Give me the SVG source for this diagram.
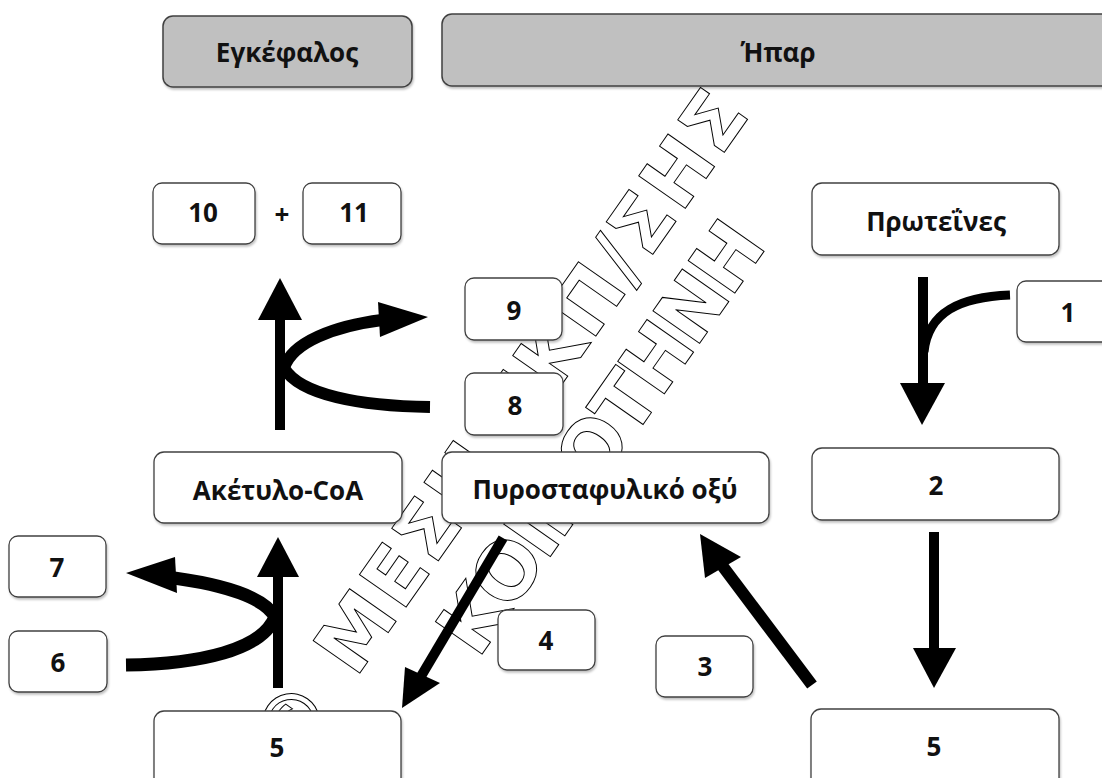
<svg xmlns="http://www.w3.org/2000/svg" width="1102" height="778" viewBox="0 0 1102 778">
<defs>
<filter id="sh" x="-5%" y="-5%" width="115%" height="125%">
<feDropShadow dx="1" dy="2" stdDeviation="1" flood-color="#000" flood-opacity="0.25"/>
</filter>
<style>
.box{fill:#fff;stroke:#404040;stroke-width:1.3;filter:url(#sh)}
.hdr{fill:#c0c0c0;stroke:#404040;stroke-width:1.5;filter:url(#sh)}
.lbl{font-family:"Open Sans","Noto Sans",sans-serif;font-weight:bold;font-size:26px;fill:#111;text-anchor:middle}
.wm{font-family:"DejaVu Sans","Liberation Sans",sans-serif;font-weight:bold;font-size:78px;fill:#fff;stroke:#000;stroke-width:1}
.ln{stroke:#000;fill:none;stroke-linecap:butt}
.hd{fill:#000;stroke:none}
</style>
</defs>
<rect width="1102" height="778" fill="#fff"/>
<g id="watermark">
<text class="wm" transform="translate(292,770) rotate(-55)" textLength="800" lengthAdjust="spacing">© ΜΕΣΗ ΕΚΠ/ΣΗΣ</text>
<text class="wm" transform="translate(478,660) rotate(-55)" textLength="506" lengthAdjust="spacing">ΚΟΙΝΟΤΗΝΗ</text>
</g>
<g id="connectors">
<line class="ln" x1="923" y1="277" x2="923" y2="386" stroke-width="10"/>
<path class="ln" d="M1010,295 C960,297 928,312 924,352" stroke-width="9"/>
<polygon class="hd" points="900,383 945,383 922,425"/>
<line class="ln" x1="934" y1="532" x2="934" y2="650" stroke-width="10"/>
<polygon class="hd" points="913,648 956,648 934,688"/>
<line class="ln" x1="812" y1="685" x2="721" y2="564" stroke-width="12"/>
<polygon class="hd" points="700,534 705,578 741,557"/>
<line class="ln" x1="503" y1="538" x2="420" y2="678" stroke-width="10"/>
<polygon class="hd" points="402,708 405,667 440,683"/>
<line class="ln" x1="278" y1="688" x2="278" y2="575" stroke-width="10"/>
<polygon class="hd" points="257,577 299,577 278,537"/>
<path class="ln" d="M126,665 C200,664 262,650 275,617 C265,598 225,585 174,578" stroke-width="13"/>
<polygon class="hd" points="126,573 175,557 177,593"/>
<line class="ln" x1="280" y1="430" x2="280" y2="318" stroke-width="10"/>
<polygon class="hd" points="258,320 302,320 280,278"/>
<path class="ln" d="M430,407 C360,406 300,395 284,368 C292,342 335,326 382,320" stroke-width="12"/>
<polygon class="hd" points="428,317 378,302 380,337"/>
</g>
<g id="brain"><rect class="hdr" x="163" y="16" width="249" height="71" rx="10"/><text class="lbl" x="287" y="62">Εγκέφαλος</text></g>
<g id="liver"><rect class="hdr" x="442" y="14" width="680" height="72" rx="10"/><text class="lbl" x="778" y="62">Ήπαρ</text></g>
<g id="n10"><rect class="box" x="153" y="183" width="102" height="61" rx="9"/><text class="lbl" x="203" y="222">10</text></g>
<g id="plus"><text class="lbl" x="282" y="224">+</text></g>
<g id="n11"><rect class="box" x="303" y="183" width="98" height="61" rx="9"/><text class="lbl" x="354" y="222">11</text></g>
<g id="proteins"><rect class="box" x="812" y="183" width="247" height="72" rx="10"/><text class="lbl" x="936" y="231">Πρωτεΐνες</text></g>
<g id="n1"><rect class="box" x="1017" y="281" width="110" height="61" rx="9"/><text class="lbl" x="1068" y="322">1</text></g>
<g id="n9"><rect class="box" x="465" y="278" width="97" height="62" rx="9"/><text class="lbl" x="514" y="320">9</text></g>
<g id="n8"><rect class="box" x="465" y="373" width="98" height="62" rx="9"/><text class="lbl" x="515" y="415">8</text></g>
<g id="acetyl"><rect class="box" x="154" y="452" width="248" height="71" rx="10"/><text class="lbl" x="278" y="500">Ακέτυλο-CoA</text></g>
<g id="pyruvic"><rect class="box" x="442" y="452" width="327" height="71" rx="10"/><text class="lbl" x="605" y="499">Πυροσταφυλικό οξύ</text></g>
<g id="n2"><rect class="box" x="812" y="448" width="247" height="72" rx="10"/><text class="lbl" x="936" y="495">2</text></g>
<g id="n7"><rect class="box" x="9" y="536" width="97" height="61" rx="9"/><text class="lbl" x="57" y="577">7</text></g>
<g id="n6"><rect class="box" x="9" y="631" width="98" height="61" rx="9"/><text class="lbl" x="58" y="672">6</text></g>
<g id="n4"><rect class="box" x="498" y="610" width="97" height="60" rx="9"/><text class="lbl" x="546" y="650">4</text></g>
<g id="n3"><rect class="box" x="656" y="636" width="97" height="61" rx="9"/><text class="lbl" x="705" y="676">3</text></g>
<g id="n5a"><rect class="box" x="154" y="711" width="247" height="80" rx="10"/><text class="lbl" x="277" y="757">5</text></g>
<g id="n5b"><rect class="box" x="811" y="709" width="248" height="80" rx="10"/><text class="lbl" x="934" y="756">5</text></g>
</svg>
